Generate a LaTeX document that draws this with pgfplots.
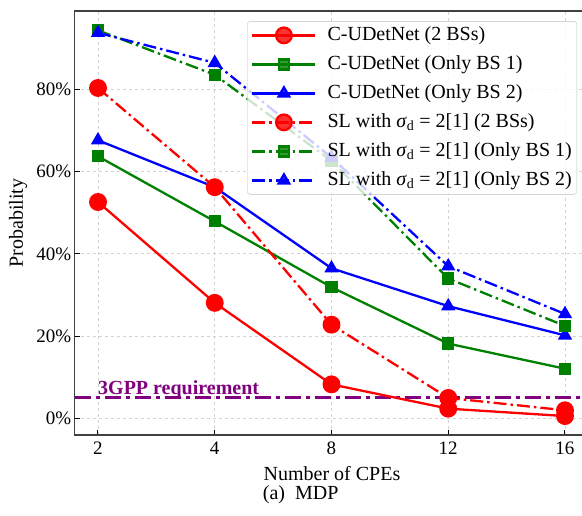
\documentclass[border=0pt]{standalone}
\usepackage{fontspec}
\setmainfont{Liberation Serif}
\usepackage{pgfplots}
\pgfplotsset{compat=1.18}
\definecolor{mplred}{RGB}{255,0,0}
\definecolor{mplgreen}{RGB}{0,128,0}
\definecolor{mplblue}{RGB}{0,0,255}
\definecolor{mplpurple}{RGB}{128,0,128}
\newcommand\fs{\fontsize{20}{24}\selectfont}
\newcommand\fst{\fontsize{19}{23}\selectfont}

\begin{document}
\begin{tikzpicture}
\useasboundingbox (-74.65pt,-81pt) rectangle (507.35pt,435pt);
\begin{axis}[
    at={(0,0)}, anchor=south west,
    scale only axis,
    width=513.7pt, height=424pt,
    xmin=-0.2, xmax=4.2, ymin=-4, ymax=99,
    xtick={0,1,2,3,4}, xticklabels={2,4,8,12,16},
    ytick={0,20,40,60,80}, yticklabels={0\%,20\%,40\%,60\%,80\%},
    xtick pos=bottom, ytick pos=left,
    tick align=inside, major tick length=5pt,
    tick style={black, line width=1pt},
    axis line style={draw=black!75, line width=1.3pt},
    grid=major, grid style={dashed, gray!35, line width=0.8pt},
    tick label style={font=\fst},
    xticklabel style={yshift=-3pt},
    xlabel={Number of CPEs}, ylabel={Probability},
    label style={font=\fs},
    xlabel style={at={(axis description cs:0.501,-0.09)}, anchor=center},
    ylabel style={at={(axis description cs:-0.110,0.5)}, anchor=center},
    legend cell align=left,
    legend style={at={(0.978,0.976)}, anchor=north east,
        draw=gray!50, fill=white, fill opacity=0.8, text opacity=1,
        rounded corners=3pt, font=\fs, row sep=9pt, column sep=10pt,
        nodes={inner sep=1pt, text height=14pt, text depth=4pt}, inner sep=4pt},
    legend image code/.code={
        \draw[mark repeat=2, mark phase=2, #1]
            plot coordinates {(0pt,0pt) (31.5pt,0pt) (63pt,0pt)};},
    clip=false,
]
% 3GPP requirement at 5 %
\addplot[mplpurple, line width=3pt, dash pattern=on 16pt off 5pt on 4pt off 5pt, forget plot]
    coordinates {(-0.2,5) (4.2,5)};
\node[anchor=base west, text=mplpurple, font=\fs\bfseries, inner sep=0pt]
    at (axis cs:0,5.9) {3GPP requirement};

% C-UDetNet
\addplot[mplred, line width=2.3pt, mark=*, mark size=7.8pt]
    coordinates {(0,52.6) (1,28.1) (2,8.3) (3,2.4) (4,0.6)};
\addlegendentry{C-UDetNet (2 BSs)}
\addplot[mplgreen, line width=2.3pt, mark=square*, mark size=5pt]
    coordinates {(0,63.7) (1,47.9) (2,31.9) (3,18.2) (4,12.1)};
\addlegendentry{C-UDetNet (Only BS 1)}
\addplot[mplblue, line width=2.3pt, mark=triangle*, mark size=6pt]
    coordinates {(0,67.6) (1,56.2) (2,36.5) (3,27.3) (4,20.2)};
\addlegendentry{C-UDetNet (Only BS 2)}

% SL baseline [1]
\addplot[mplred, line width=2.3pt, dash pattern=on 13pt off 4pt on 2.5pt off 4pt,
    mark=*, mark size=7.8pt, mark options={solid}]
    coordinates {(0,80.3) (1,56.2) (2,22.8) (3,5.0) (4,2.0)};
\addlegendentry{SL with \textit{σ}\textsubscript{d} = 2[1] (2 BSs)}
\addplot[mplgreen, line width=2.3pt, dash pattern=on 13pt off 4pt on 2.5pt off 4pt,
    mark=square*, mark size=5pt, mark options={solid}]
    coordinates {(0,94.3) (1,83.5) (2,62.6) (3,34.0) (4,22.5)};
\addlegendentry{SL with \textit{σ}\textsubscript{d} = 2[1] (Only BS 1)}
\addplot[mplblue, line width=2.3pt, dash pattern=on 13pt off 4pt on 2.5pt off 4pt,
    mark=triangle*, mark size=6pt, mark options={solid}]
    coordinates {(0,93.7) (1,86.4) (2,63.4) (3,37.0) (4,25.4)};
\addlegendentry{SL with \textit{σ}\textsubscript{d} = 2[1] (Only BS 2)}

\node[font=\fs] at (axis description cs:0.44,-0.14) {(a)\ \ MDP};
\end{axis}
\end{tikzpicture}
\end{document}
